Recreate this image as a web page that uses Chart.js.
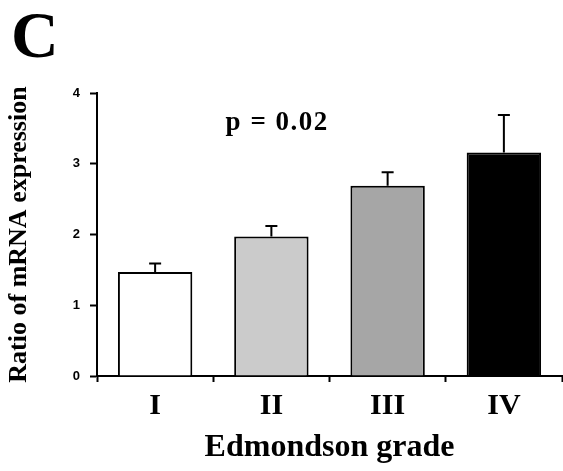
<!DOCTYPE html>
<html>
<head>
<meta charset="utf-8">
<script src="https://cdn.jsdelivr.net/npm/chart.js@4"></script>
<style>
  html, body { margin: 0; padding: 0; background: #ffffff; }
  canvas { display: block; }
</style>
</head>
<body>
<canvas id="c" width="563" height="471"></canvas>
<script>
const categories = ['I', 'II', 'III', 'IV'];
const means = [1.47, 1.97, 2.69, 3.16];
const errors = [0.12, 0.15, 0.19, 0.53];
const barColors = ['#ffffff', '#cbcbcb', '#a6a6a6', '#000000'];
const yTicks = [0, 1, 2, 3, 4];
const panelLabel = 'C';
const pLabel = 'p = 0.02';
const xTitle = 'Edmondson grade';
const yTitle = 'Ratio of mRNA expression';

const serif = '"Liberation Serif", "Times New Roman", serif';

const errorBarPlugin = {
  id: 'errorBars',
  afterDatasetsDraw(chart) {
    const ctx = chart.ctx;
    const meta = chart.getDatasetMeta(0);
    const yScale = chart.scales.y;
    ctx.save();
    ctx.strokeStyle = '#000';
    ctx.lineWidth = 2;
    meta.data.forEach((bar, i) => {
      const x = bar.x;
      const yBase = bar.y;
      const yTop = yScale.getPixelForValue(means[i] + errors[i]);
      ctx.beginPath();
      ctx.moveTo(x, yBase);
      ctx.lineTo(x, yTop);
      ctx.moveTo(x - 6, yTop);
      ctx.lineTo(x + 6, yTop);
      ctx.stroke();
    });
    ctx.restore();
  }
};

const textPlugin = {
  id: 'texts',
  afterDraw(chart) {
    const ctx = chart.ctx;
    const xs = chart.scales.x, ys = chart.scales.y;
    ctx.save();
    ctx.fillStyle = '#000';
    ctx.textAlign = 'left';
    ctx.textBaseline = 'alphabetic';
    ctx.font = 'bold 66px ' + serif;
    ctx.fillText(panelLabel, 11, 57);
    ctx.font = 'bold 27px ' + serif;
    ctx.textAlign = 'center';
    ctx.textBaseline = 'middle';
    ctx.letterSpacing = '1.5px';
    ctx.fillText(pLabel, xs.getPixelForValue(1.05), ys.getPixelForValue(3.57));
    ctx.restore();
  }
};

new Chart(document.getElementById('c'), {
  type: 'bar',
  data: {
    labels: categories,
    datasets: [{
      data: means,
      backgroundColor: barColors,
      borderColor: '#000000',
      borderWidth: 2,
      barPercentage: 0.64,
      categoryPercentage: 1.0
    }]
  },
  options: {
    responsive: false,
    devicePixelRatio: 1,
    animation: false,
    layout: { padding: { top: 93, right: 1, left: 0, bottom: 0 } },
    plugins: { legend: { display: false }, tooltip: { enabled: false } },
    scales: {
      x: {
        offset: true,
        grid: { display: true, drawOnChartArea: false, drawTicks: true, tickLength: 6, tickWidth: 2, tickColor: '#000', offset: true },
        border: { display: true, color: '#000', width: 2 },
        ticks: { color: '#000', padding: 6, font: { family: serif, size: 30, weight: 'bold' } },
        title: { display: true, text: xTitle, color: '#000', font: { family: serif, size: 32, weight: 'bold' }, padding: { top: 0, bottom: 4 } },
        afterFit(s) { s.height = 95; }
      },
      y: {
        min: 0,
        max: 4,
        afterBuildTicks(s) { s.ticks = yTicks.map(v => ({ value: v })); },
        grid: { display: true, drawOnChartArea: false, drawTicks: true, tickLength: 7, tickWidth: 2, tickColor: '#000' },
        border: { display: true, color: '#000', width: 2 },
        ticks: { color: '#000', padding: 10, font: { family: '"Liberation Sans", Arial, sans-serif', size: 13, weight: 'bold' } },
        title: { display: true, text: yTitle, color: '#000', font: { family: serif, size: 26, weight: 'bold' }, padding: { top: 4, bottom: 0 } },
        afterFit(s) { s.width = 97; }
      }
    }
  },
  plugins: [errorBarPlugin, textPlugin]
});
</script>
</body>
</html>
